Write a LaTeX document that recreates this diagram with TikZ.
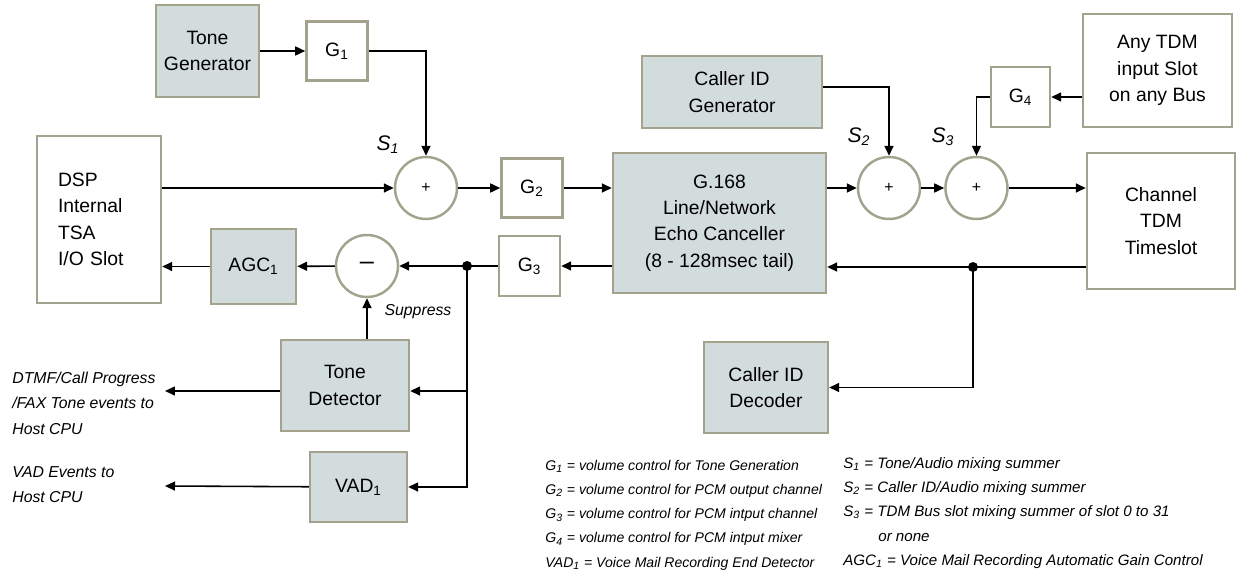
\documentclass[tikz,border=0pt]{standalone}
\usepackage{fontspec}
\setmainfont{Liberation Sans}
\usetikzlibrary{positioning, arrows.meta}
\definecolor{bordcol}{HTML}{A3A38D}
\definecolor{boxfill}{HTML}{D3DCDD}

\begin{document}
\begin{tikzpicture}[
        x = 0.02cm, y = -0.02cm,
        > = {Triangle[length=2mm,width=1.8mm]},
     font = \fontsize{11}{15}\selectfont,
        box/.style = {rectangle, draw=bordcol, line width=1.4pt, fill=#1,
                     align=center, inner sep=1pt,
                     minimum width=12.2mm, minimum height=11.8mm},
        sum/.style = {circle, draw=bordcol, line width=1.4pt, fill=white,
                     inner sep=0pt, minimum size=12.4mm},
       wire/.style = {line width=0.9pt},
     slabel/.style = {font=\fontsize{12}{12}\selectfont\itshape, inner sep=0pt},
       note/.style = {font=\fontsize{9}{14.5}\selectfont\itshape,
                     align=left, anchor=west, inner sep=0pt},
     legend/.style = {font=\fontsize{#1}{13.8}\selectfont\itshape,
                     align=left, anchor=west, inner sep=0pt}
                        ]
\useasboundingbox (0,0) rectangle (1241,581);
% blocks
\node (tonegen) [box=boxfill, minimum width=20.6mm, minimum height=18.4mm] at (207.5,51) {Tone\\Generator};
\node (g1) [box=white, right=9mm of tonegen] {G\textsubscript{1}};
\node (dsp) [box=white, minimum width=24.8mm, minimum height=33.4mm,
             text width=16.4mm, inner xsep=4.2mm, align=left] at (99,219.5) {DSP\\Internal\\TSA\\I/O Slot};
\node (s1) [sum] at (426,188) {\small +};
\node (g2) [box=white, right=8.4mm of s1] {G\textsubscript{2}};
\node (echo) [box=boxfill, minimum width=42.6mm, minimum height=28mm] at (719.5,223) {G.168\\Line/Network\\Echo Canceller\\(8 - 128msec tail)};
\node (g3) [box=white, minimum height=12mm] at (529.5,266) {G\textsubscript{3}};
\node (minus) [sum] at (367,266) {\Large --};
\node (agc) [box=boxfill, minimum width=17mm, minimum height=15mm] at (253.5,266.5) {AGC\textsubscript{1}};
\node (callgen) [box=boxfill, minimum width=36mm, minimum height=14.4mm] at (732,92) {Caller ID\\Generator};
\node (s2) [sum] at (889,188) {\small +};
\node (s3) [sum, right=4.6mm of s2] {\small +};
\node (g4) [box=white, minimum width=11.8mm, minimum height=12mm] at (1020.5,97) {G\textsubscript{4}};
\node (anytdm) [box=white, minimum width=29.8mm, minimum height=22.6mm] at (1157.5,70.5) {Any TDM\\input Slot\\on any Bus};
\node (chantdm) [box=white, minimum width=29.6mm, minimum height=27.2mm] at (1161,221) {Channel\\TDM\\Timeslot};
\node (calldec) [box=boxfill, minimum width=24.8mm, minimum height=18.2mm] at (766,387.5) {Caller ID\\Decoder};
\node (tonedet) [box=boxfill, minimum width=25.6mm, minimum height=18.2mm] at (345,385.5) {Tone\\Detector};
\node (vad) [box=boxfill, minimum width=19.4mm, minimum height=14mm] at (358.5,487) {VAD\textsubscript{1}};
% branch points and free ends
\coordinate (tap1) at (467,266);
\coordinate (tap2) at (973,267);
\coordinate (tdout) at (165,391);
\coordinate (vadout) at (165,486);
% upper path
\draw[wire,->] (tonegen) -- (g1);
\draw[wire,->] (g1) -| (s1);
\draw[wire,->] (dsp.east |- s1) -- (s1);
\draw[wire,->] (s1) -- (g2);
\draw[wire,->] (g2) -- (echo.west |- g2);
\draw[wire,->] (echo.east |- s2) -- (s2);
\draw[wire,->] (s2) -- (s3);
\draw[wire,->] (s3) -- (chantdm.west |- s3);
\draw[wire,->] ([yshift=1mm]callgen.east) -| (s2);
\draw[wire,->] (anytdm.west |- g4) -- (g4);
\draw[wire,->] (g4) -| (s3);
% lower path
\draw[wire,->] (chantdm.west |- tap2) -- (echo.east |- tap2);
\draw[wire,->] (tap2) |- (calldec);
\draw[wire,->] (echo.west |- tap1) -- (g3);
\draw[wire,->] (g3) -- (minus);
\draw[wire,->] (minus) -- (agc);
\draw[wire,->] (agc) -- (dsp.east |- agc);
\draw[wire,->] (tap1) |- (vad);
\draw[wire,->] (tap1 |- tdout) -- (tonedet.east |- tdout);
\draw[wire,->] (tonedet.west |- tdout) -- (tdout);
\draw[wire,->] (vad) -- (vadout);
\draw[wire,->] (tonedet.north -| minus) -- (minus);
\fill (tap1) circle (1mm);
\fill (tap2) circle (1mm);
% labels
\node[slabel] at (388,145) {S\textsubscript{1}};
\node[slabel] at (859,137) {S\textsubscript{2}};
\node[slabel] at (943,137) {S\textsubscript{3}};
\node[note, anchor=center] at (418,312) {Suppress};
\node[note] at (12,403) {DTMF/Call Progress\\/FAX Tone events to\\Host CPU};
\node[note] at (12,484.5) {VAD Events to\\Host CPU};
\node[legend=8] at (545,515) {G\textsubscript{1} = volume control for Tone Generation\\
  G\textsubscript{2} = volume control for PCM output channel\\
  G\textsubscript{3} = volume control for PCM intput channel\\
  G\textsubscript{4} = volume control for PCM intput mixer\\
  VAD\textsubscript{1} = Voice Mail Recording End Detector};
\node[legend=8.6] at (843,513) {S\textsubscript{1} = Tone/Audio mixing summer\\
  S\textsubscript{2} = Caller ID/Audio mixing summer\\
  S\textsubscript{3} = TDM Bus slot mixing summer of slot 0 to 31\\
  \hspace*{7mm}or none\\
  AGC\textsubscript{1} = Voice Mail Recording Automatic Gain Control};
\end{tikzpicture}
\end{document}
